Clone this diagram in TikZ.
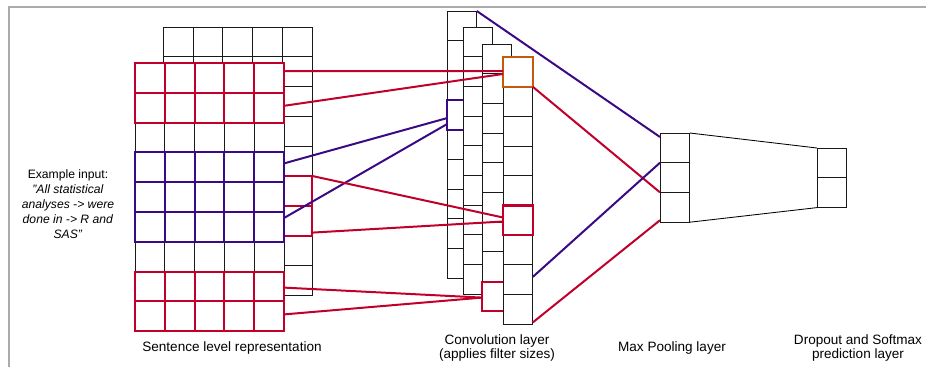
\documentclass[tikz,border=0pt]{standalone}
\usepackage{fontspec}
\setmainfont{Liberation Sans}
\usepackage{tikz}
\usepackage{xcolor}
\definecolor{redc}{HTML}{C0002B}
\definecolor{purc}{HTML}{3A0A85}
\definecolor{orac}{HTML}{C45A12}
\definecolor{framec}{HTML}{ABABAB}
\begin{document}
\begin{tikzpicture}[x=1bp,y=-1bp,font=\fontsize{13.6}{15}\selectfont,
cell/.style={draw=black!90,fill=white,line width=0.85bp,minimum size=29.8bp,inner sep=0pt,outer sep=0pt,anchor=north west},
hl/.style={line width=2.1bp},
wire/.style={line width=2bp}]
\useasboundingbox (0,0) rectangle (926,367);
\draw[framec,line width=2bp] (926,7)--(9,7)--(9,367);
% sentence matrix, back and front
\foreach \r in {0,...,8}\foreach \c in {0,...,4}\node[cell] (b\r\c) at ({163.3+29.8*\c},{27+29.8*\r}){};
\foreach \r in {5,6}\foreach \c in {0,...,4}\draw[hl,redc] (b\r\c.north west) rectangle (b\r\c.south east);
\foreach \r in {0,...,8}\foreach \c in {0,...,4}\node[cell] (f\r\c) at ({135+29.8*\c},{63+29.8*\r}){};
\foreach \r/\col in {0/redc,1/redc,3/purc,4/purc,5/purc,7/redc,8/redc}\foreach \c in {0,...,4}\draw[hl,\col] (f\r\c.north west) rectangle (f\r\c.south east);
% convolution columns
\foreach \r in {0,...,8}\node[cell] (a\r) at (447,{11+29.7*\r}){};
\draw[hl,purc] (a3.north west) rectangle (a3.south east);
\foreach \r in {0,...,8}\node[cell] (k\r) at (463,{27+29.7*\r}){};
\foreach \r in {0,...,8}\node[cell] (c\r) at (482,{44+29.7*\r}){};
\draw[hl,redc] (c8.north west) rectangle (c8.south east);
\foreach \r in {0,...,8}\node[cell] (d\r) at (503,{57+29.7*\r}){};
\draw[hl,orac] (d0.north west) rectangle (d0.south east);
\draw[hl,redc] (d5.north west) rectangle (d5.south east);
% pooling and softmax
\foreach \r in {0,1,2}\node[cell] (p\r) at (660,{133+29.7*\r}){};
\foreach \r in {0,1}\node[cell] (s\r) at (817,{148+29.8*\r}){};
% filters
\draw[wire,redc] ([yshift=-8bp]f04.north east)--([yshift=-14bp]d0.north west);
\draw[wire,redc] ([yshift=-13bp]f14.north east)--([yshift=-17bp]d0.north west);
\draw[wire,purc] ([yshift=-11bp]f34.north east)--([yshift=-18bp]a3.north west);
\draw[wire,purc] ([yshift=-6bp]f54.north east)--([yshift=-24bp]a3.north west);
\draw[wire,redc] (b54.north east)--([yshift=-12bp]d5.north west);
\draw[wire,redc] ([yshift=3bp]b64.south east)--([yshift=-16bp]d5.north west);
\draw[wire,redc] ([yshift=-16bp]f74.north east)--([yshift=-16bp]c8.north west);
\draw[wire,redc] ([yshift=-13bp]f84.north east)--([yshift=-16bp]c8.north west);
% max pooling
\draw[wire,purc] (a0.north east)--([yshift=-4bp]p0.north west);
\draw[wire,redc] (d0.south east)--(p2.north west);
\draw[wire,purc] ([yshift=-12bp]d7.north east)--(p1.north west);
\draw[wire,redc] ([yshift=2bp]d8.south east)--([yshift=2bp]p2.south west);
\draw[line width=0.85bp] (p0.north east)--(s0.north west);
\draw[line width=0.85bp] (p2.south east)--(s1.south west);
% labels
\node[align=center,font=\fontsize{12.2}{15}\selectfont] (ex) at (68,204) {Example input:\\\textit{"All statistical}\\\textit{analyses -> were}\\\textit{done in -> R and}\\\textit{SAS"}};
\node (sent) at (232,348) {Sentence level representation};
\node[align=center] (conv) at (497,348) {Convolution layer\\(applies filter sizes)};
\node (pool) at (672,348) {Max Pooling layer};
\node[align=center] (soft) at (858,348) {Dropout and Softmax\\prediction layer};
\end{tikzpicture}
\end{document}
